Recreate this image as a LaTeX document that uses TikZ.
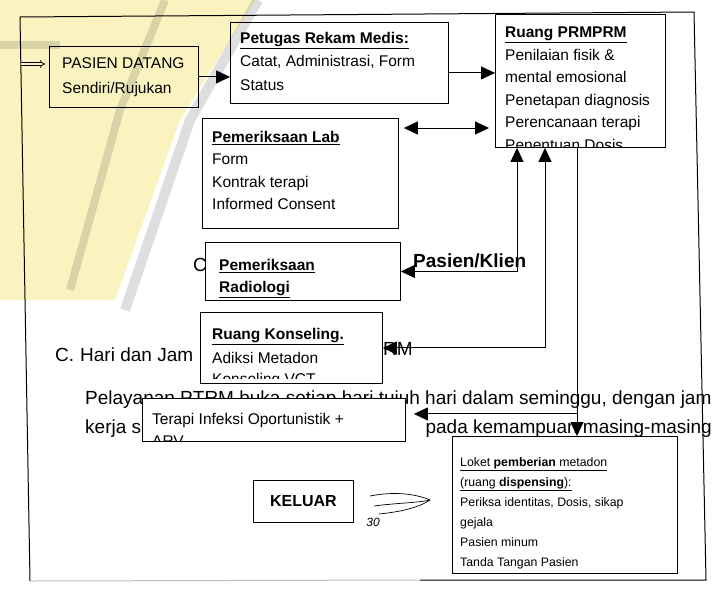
\documentclass[tikz,border=0pt]{standalone}
\usepackage{fontspec}
\setmainfont{Liberation Sans}
\usetikzlibrary{arrows.meta,positioning,calc}
\definecolor{wmyellow}{HTML}{FAF3C0}
\definecolor{wmgray}{HTML}{DEDEDE}
\tikzset{
  box/.style    ={draw,fill=white,line width=0.9pt,anchor=north west,inner sep=0pt},
  boxtxt/.style ={anchor=north west,align=left,inner sep=0pt,font=\fontsize{15.5}{22.5}\selectfont},
  smalltxt/.style={anchor=north west,align=left,inner sep=0pt,font=\fontsize{12.3}{20}\selectfont},
  doc/.style    ={anchor=west,inner sep=0pt,font=\fontsize{19}{22}\selectfont},
  pageline/.style={line width=1pt},
  arr/.style    ={line width=1pt,-{Triangle[length=14pt,width=13pt]}},
  arrtwo/.style ={line width=1pt,{Triangle[length=14pt,width=13pt]}-{Triangle[length=14pt,width=13pt]}},
}
\newcommand{\boxhead}[1]{\underline{\textbf{#1}}}

\begin{document}
\begin{tikzpicture}[x=1pt,y=-1pt]
  \useasboundingbox (0,0) rectangle (719,590);

  % page text under the pasted chart
  \node[doc] (c1) at (193,265) {C};
  \node[doc,font=\fontsize{19}{22}\selectfont\bfseries] (klien) at (413,261) {Pasien/Klien};
  \node[doc] (hari) at (55,355) {C.\hspace{6pt}Hari dan Jam};
  \node[doc] (rm) at (383,349) {RM};
  \node[doc] (par1) at (85,400) {Pelayanan PTRM buka setiap hari tujuh hari dalam seminggu, dengan jam};
  \node[doc] (par2a) at (85,429) {kerja s};
  \node[doc,anchor=east] (par2b) at (712,429) {pada kemampuan masing-masing};

  % frame
  \draw[pageline] (30,581) -- (20,17) -- (694,12) -- (706,580) -- (420,580);
  \draw[pageline,black!25] (420,580) -- (30,581);

  % boxes
  \node[box,minimum width=149,minimum height=61]  (pasien)  at (49,46)   {};
  \node[box,minimum width=218,minimum height=81]  (petugas) at (230,22)  {};
  \node[box,minimum width=170,minimum height=133] (prm)     at (495,14)  {};
  \node[box,minimum width=196,minimum height=110] (lab)     at (202,118) {};
  \node[box,minimum width=195,minimum height=58]  (radio)   at (205,242) {};
  \node[box,minimum width=182,minimum height=71]  (konsel)  at (200,312) {};
  \node[box,minimum width=263,minimum height=43]  (terapi)  at (142,398) {};
  \node[box,minimum width=225,minimum height=137] (loket)   at (452,436) {};
  \node[box,minimum width=100,minimum height=42,font=\fontsize{16}{18}\selectfont\bfseries]
       (keluar) at (253,480) {KELUAR};

  % box texts
  \node[boxtxt,font=\fontsize{15.5}{25}\selectfont] (pasien-t) at (62,57) {PASIEN DATANG\\Sendiri/Rujukan};
  \node[boxtxt,font=\fontsize{15.5}{23.5}\selectfont] (petugas-t) at (240,32)
       {\boxhead{Petugas Rekam Medis:}\\Catat, Administrasi, Form\\Status};
  \begin{scope}
    \clip (prm.north west) rectangle (prm.south east);
    \node[boxtxt] (prm-t) at (505,27) {\boxhead{Ruang PRMPRM}\\Penilaian fisik \&\\mental emosional\\
         Penetapan diagnosis\\Perencanaan terapi\\Penentuan Dosis};
  \end{scope}
  \node[boxtxt] (lab-t) at (212,131) {\boxhead{Pemeriksaan Lab}\\Form\\Kontrak terapi\\Informed Consent};
  \node[boxtxt] (radio-t) at (219,259) {\boxhead{Pemeriksaan}\\\boxhead{Radiologi}};
  \node[boxtxt,font=\fontsize{15.5}{24.5}\selectfont] (konsel-t) at (212,328)
       {\boxhead{Ruang Konseling.}\\Adiksi Metadon};
  \begin{scope}
    \clip (konsel.north west) rectangle ([yshift=5pt]konsel.south east);
    \node[boxtxt,anchor=base west,text depth=0pt] (konsel-c) at (212,384) {Konseling VCT};
  \end{scope}
  \begin{scope}
    \clip (terapi.north west) rectangle (terapi.south east);
    \node[boxtxt] (terapi-t) at (152,413) {Terapi Infeksi Oportunistik +\\ARV};
  \end{scope}
  \node[smalltxt] (loket-t) at (460,457) {\underline{Loket \textbf{pemberian} metadon}\\
       \underline{(ruang \textbf{dispensing}):}\\Periksa identitas, Dosis, sikap\\gejala\\
       Pasien minum\\Tanda Tangan Pasien};

  % connectors
  \coordinate (masuk) at (21,64);
  \draw[line width=0.7pt,double distance=2pt,-{Implies},shorten >=4pt] (masuk) -- (masuk -| pasien.west);
  \draw[arr] (pasien.east) -- (pasien.east -| petugas.west);
  \coordinate (pt-out) at ([yshift=-10pt]petugas.east);
  \draw[arr] (pt-out) -- (pt-out -| prm.west);
  \coordinate (lab-r) at ([shift={(5,10)}]lab.north east);
  \draw[arrtwo,shorten >=6pt] (lab-r) -- (lab-r -| prm.west);
  \draw[arrtwo] (radio.east) -| ([xshift=22pt]prm.south west);
  \draw[arrtwo] (konsel.east) -| ([xshift=50pt]prm.south west);
  \coordinate (prm-o) at ([xshift=82pt]prm.south west);
  \draw[arr] (prm-o) -- (prm-o |- loket.north);
  \path (prm-o |- terapi.east) ++(0,-6) coordinate (cab);
  \draw[arr,shorten >=8pt] (cab) -- (cab -| terapi.east);

  % hand-drawn mark
  \draw[line width=0.7pt] (370,496) .. controls (395,491) and (416,494) .. (430,500);
  \draw[line width=0.7pt] (374,506) .. controls (396,503) and (416,503) .. (430,500);
  \draw[line width=0.7pt] (379,514) .. controls (399,512) and (418,508) .. (430,500);
  \node[font=\itshape\fontsize{12}{12}\selectfont] (paraf) at (373,522) {30};

  % watermark
  \begin{scope}[blend mode=multiply]
    \fill[wmyellow] (0,0) -- (255,0) -- (180,120) -- (115,300) -- (0,300) -- cycle;
    \draw[wmgray,line width=10pt] (258,0) -- (190,120) -- (125,310);
    \draw[wmgray,line width=8pt] (165,0) -- (120,110) -- (70,290);
    \draw[wmgray,line width=8pt] (0,45) -- (60,45);
  \end{scope}
\end{tikzpicture}
\end{document}
